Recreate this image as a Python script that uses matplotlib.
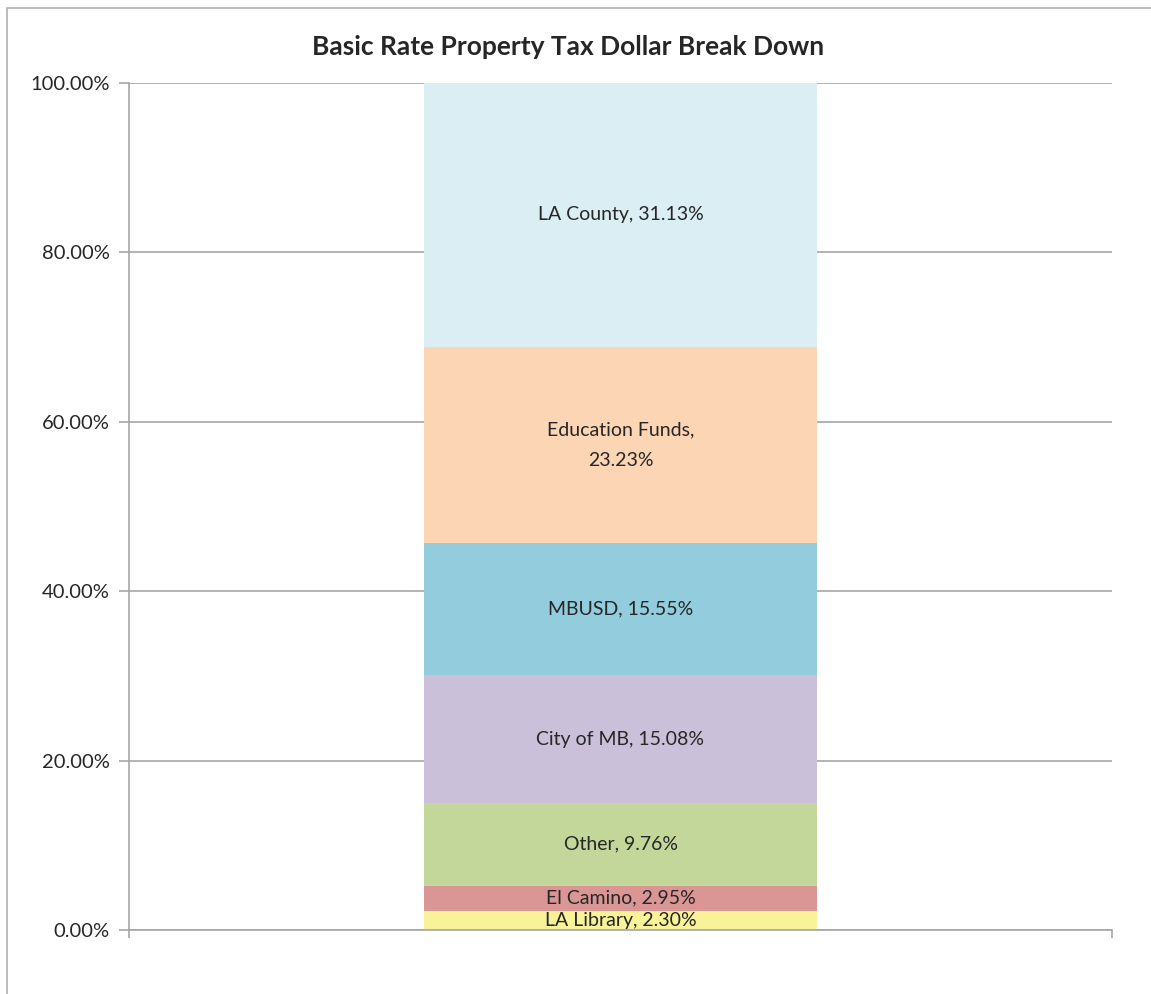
import matplotlib
matplotlib.use("Agg")
import matplotlib.pyplot as plt
from matplotlib.patches import Rectangle
from matplotlib.ticker import FuncFormatter

# data, bottom to top
labels = ["LA Library", "El Camino", "Other", "City of MB", "MBUSD",
          "Education Funds", "LA County"]
values = [2.30, 2.95, 9.76, 15.08, 15.55, 23.23, 31.13]
colors = ["#F8F398", "#D99694", "#C4D79B", "#CBC0D9", "#93CDDD",
          "#FCD5B5", "#DBEEF4"]
yticks = [0, 20, 40, 60, 80, 100]

plt.rcParams['font.family'] = ['Lato', 'DejaVu Sans']

fig = plt.figure(figsize=(11.51, 9.94), dpi=100)
ax = fig.add_axes([129 / 1151, 1 - 930 / 994, (1112 - 129) / 1151, (930 - 83) / 994])

# light gray frame around the chart area (right/bottom fall outside the image)
fig.patches.append(Rectangle((7 / 1151, -0.1), 1.2, 1 - 8 / 994 + 0.1,
                             transform=fig.transFigure, fill=False,
                             edgecolor="#B0B0B0", linewidth=1.2))

bottom = 0
for lab, val, col in zip(labels, values, colors):
    ax.bar(0, val, width=0.4, bottom=bottom, color=col, zorder=2)
    txt = f"{lab}, {val:.2f}%"
    if lab == "Education Funds":
        txt = f"{lab},\n{val:.2f}%"
    ax.text(0, bottom + val / 2, txt, ha="center", va="center",
            fontsize=14, color="#262626", linespacing=1.95, zorder=3)
    bottom += val

ax.set_xlim(-0.5, 0.5)
ax.set_ylim(0, 100)
ax.set_yticks(yticks)
ax.yaxis.set_major_formatter(FuncFormatter(lambda v, p: f"{v:.2f}%"))
ax.set_xticks([-0.5, 0.5])
ax.set_xticklabels([])
ax.tick_params(axis="x", direction="out", length=6, color="#A6A6A6", width=1.2)
ax.tick_params(axis="y", direction="out", length=7, color="#A6A6A6", width=1.2,
               labelsize=14.5, labelcolor="#262626", pad=7)
ax.grid(axis="y", color="#A6A6A6", linewidth=1.2, zorder=1)
ax.set_axisbelow(True)
for s in ["top", "right"]:
    ax.spines[s].set_visible(False)
for s in ["left", "bottom"]:
    ax.spines[s].set_color("#A6A6A6")
    ax.spines[s].set_linewidth(1.2)

fig.text(568 / 1151, 1 - 47 / 994, "Basic Rate Property Tax Dollar Break Down",
         ha="center", va="center", fontsize=19, fontweight="bold", color="#262626")

fig.savefig("out.png", dpi=100)
